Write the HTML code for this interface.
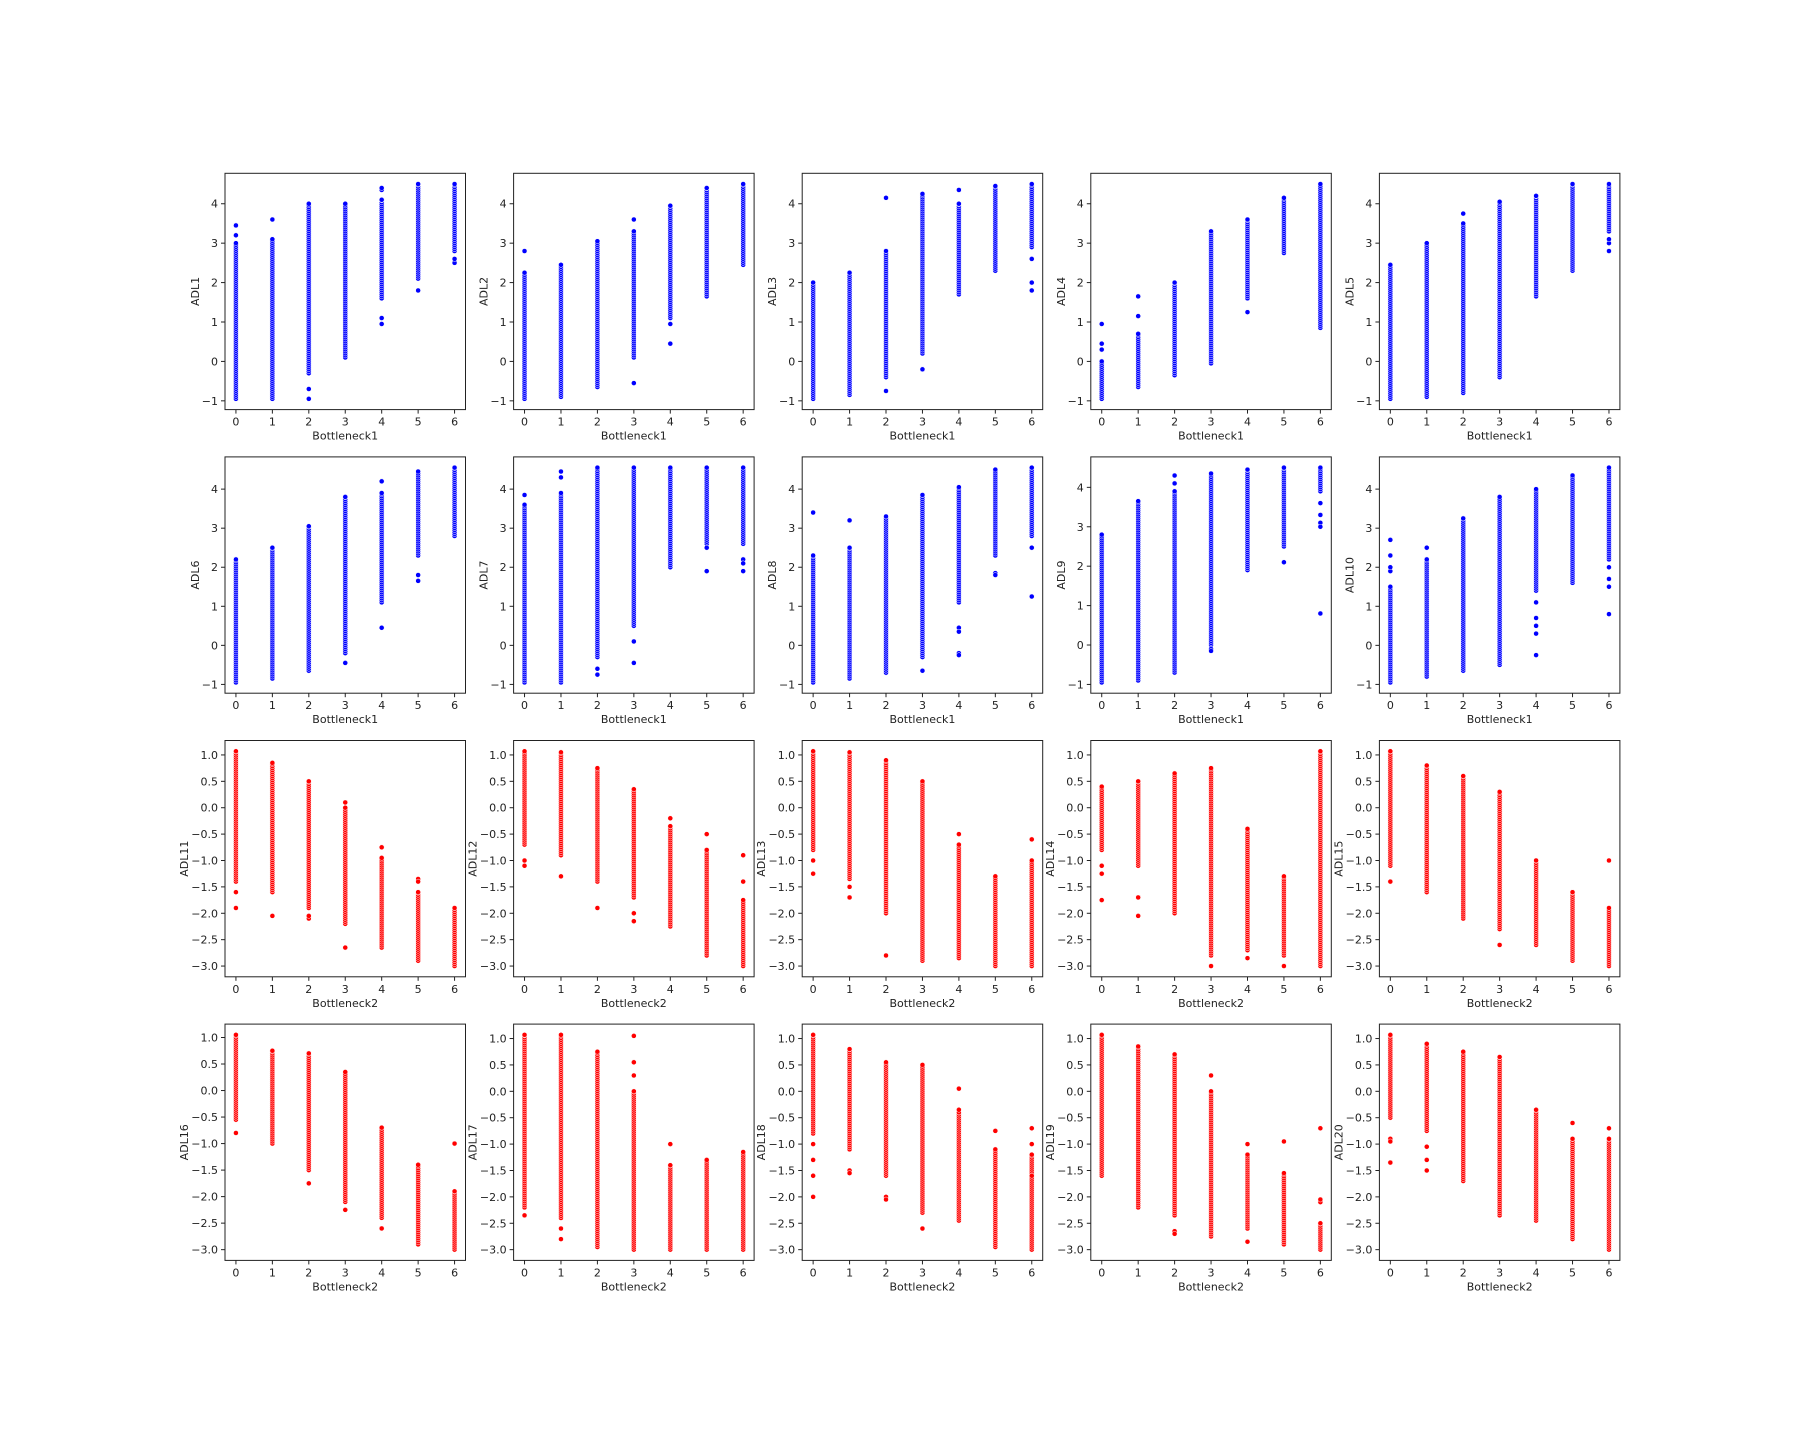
<!DOCTYPE html>
<html><head><meta charset="utf-8"><title>ADL vs Bottleneck scatter grid</title>
<style>
html,body{margin:0;padding:0;background:#fff;}
svg text{font-family:"DejaVu Sans","Liberation Sans",sans-serif;font-size:11px;fill:#222;}
</style></head>
<body>
<svg id="fig" width="1800" height="1440" viewBox="0 0 1800 1440" xmlns="http://www.w3.org/2000/svg">
<rect width="1800" height="1440" fill="#fff"/>
</svg>
<script>
// x categories
const categories = [0,1,2,3,4,5,6];
// per-panel names and x labels
const panelNames = ["ADL1","ADL2","ADL3","ADL4","ADL5","ADL6","ADL7","ADL8","ADL9","ADL10","ADL11","ADL12","ADL13","ADL14","ADL15","ADL16","ADL17","ADL18","ADL19","ADL20"];
const xLabels = ["Bottleneck1","Bottleneck1","Bottleneck1","Bottleneck1","Bottleneck1","Bottleneck1","Bottleneck1","Bottleneck1","Bottleneck1","Bottleneck1","Bottleneck2","Bottleneck2","Bottleneck2","Bottleneck2","Bottleneck2","Bottleneck2","Bottleneck2","Bottleneck2","Bottleneck2","Bottleneck2"];
const topTicks = [-1,0,1,2,3,4];
const bottomTicks = [-3,-2.5,-2,-1.5,-1,-0.5,0,0.5,1];
// dense ranges [lo,hi] per category, per panel
const denseRanges = [
 [[-0.95,3.0],[-0.95,3.1],[-0.3,4.0],[0.1,4.0],[1.6,4.1],[2.1,4.5],[2.8,4.5]],
 [[-0.95,2.25],[-0.9,2.45],[-0.65,3.05],[0.1,3.3],[1.1,3.95],[1.65,4.4],[2.45,4.5]],
 [[-0.95,2.0],[-0.85,2.25],[-0.4,2.8],[0.2,4.25],[1.7,4.0],[2.3,4.45],[2.9,4.5]],
 [[-0.95,0.0],[-0.65,0.7],[-0.35,2.0],[-0.05,3.3],[1.6,3.6],[2.75,4.15],[0.85,4.5]],
 [[-0.95,2.45],[-0.9,3.0],[-0.8,3.5],[-0.4,4.05],[1.65,4.2],[2.3,4.5],[3.3,4.5]],
 [[-0.95,2.2],[-0.85,2.5],[-0.65,3.05],[-0.2,3.8],[1.1,3.9],[2.3,4.45],[2.8,4.55]],
 [[-0.95,3.6],[-0.95,3.9],[-0.3,4.55],[0.5,4.55],[2.0,4.55],[2.6,4.55],[2.6,4.55]],
 [[-0.95,2.3],[-0.85,2.5],[-0.7,3.3],[-0.3,3.85],[1.1,4.05],[2.3,4.5],[2.8,4.55]],
 [[-0.95,2.8],[-0.9,3.65],[-0.7,3.9],[0.0,4.35],[1.9,4.45],[2.5,4.5],[3.9,4.5]],
 [[-0.95,1.5],[-0.8,2.2],[-0.65,3.25],[-0.5,3.8],[1.4,4.0],[1.6,4.35],[2.2,4.55]],
 [[-1.4,1.07],[-1.6,0.85],[-1.9,0.5],[-2.2,0.0],[-2.65,-0.95],[-2.9,-1.6],[-3.0,-1.9]],
 [[-0.7,1.07],[-0.9,1.05],[-1.4,0.75],[-1.7,0.35],[-2.25,-0.35],[-2.8,-0.8],[-3.0,-1.75]],
 [[-0.8,1.07],[-1.35,1.05],[-2.0,0.9],[-2.9,0.5],[-2.85,-0.7],[-3.0,-1.3],[-3.0,-1.0]],
 [[-0.8,0.4],[-1.1,0.5],[-2.0,0.65],[-2.8,0.75],[-2.7,-0.4],[-2.8,-1.3],[-3.0,1.07]],
 [[-1.1,1.07],[-1.6,0.8],[-2.1,0.6],[-2.3,0.3],[-2.6,-1.0],[-2.9,-1.6],[-3.0,-1.9]],
 [[-0.55,1.05],[-1.0,0.75],[-1.5,0.7],[-2.1,0.35],[-2.4,-0.7],[-2.9,-1.4],[-3.0,-1.9]],
 [[-2.2,1.07],[-2.4,1.07],[-2.95,0.75],[-3.0,0.0],[-3.0,-1.4],[-3.0,-1.3],[-3.0,-1.15]],
 [[-0.8,1.07],[-1.1,0.8],[-1.6,0.55],[-2.3,0.5],[-2.45,-0.4],[-2.95,-1.1],[-3.0,-1.2]],
 [[-1.6,1.07],[-2.2,0.85],[-2.35,0.7],[-2.75,0.0],[-2.6,-1.2],[-2.9,-1.55],[-3.0,-2.5]],
 [[-0.5,1.07],[-0.75,0.9],[-1.7,0.75],[-2.35,0.65],[-2.45,-0.35],[-2.8,-0.9],[-3.0,-0.9]]
];
// isolated points per category, per panel
const outliers = [
 [[3.2,3.45],[3.6],[-0.7,-0.95],[],[4.35,4.4,1.1,0.95],[1.8],[2.5,2.6]],
 [[2.8],[],[],[3.6,-0.55],[0.45,0.95],[],[]],
 [[],[],[4.15,-0.75],[-0.2],[4.35],[],[2.6,2.0,1.8]],
 [[0.3,0.45,0.95],[1.15,1.65],[],[],[1.25],[],[]],
 [[],[],[3.75],[],[],[],[3.0,2.8,3.1]],
 [[],[],[],[-0.45],[4.2,0.45],[1.8,1.65],[]],
 [[3.85],[4.3,4.45],[-0.6,-0.75],[0.1,-0.45],[],[1.9,2.5],[1.9,2.2,2.1]],
 [[3.4],[3.2],[],[-0.65],[0.45,0.35,-0.2,-0.25],[1.85,1.8],[2.5,1.25]],
 [[],[],[4.1,4.3],[-0.1,-0.15],[],[2.1],[3.6,3.3,3.1,3.0,0.8]],
 [[1.9,2.0,2.3,2.7],[2.5],[],[],[1.1,0.7,0.5,0.3,-0.25],[],[2.0,1.7,1.5,0.8]],
 [[-1.6,-1.9],[-2.05],[-2.1,-2.05],[0.1,-2.65],[-0.75],[-1.35,-1.4],[]],
 [[-1.0,-1.1],[-1.3],[-1.9],[-2.0,-2.15],[-0.2],[-0.5],[-0.9,-1.4]],
 [[-1.0,-1.25],[-1.5,-1.7],[-2.8],[],[-0.5],[],[-0.6]],
 [[-1.1,-1.25,-1.75],[-1.7,-2.05],[],[-3.0],[-2.85],[-3.0],[]],
 [[-1.4],[],[],[-2.6],[],[],[-1.0]],
 [[-0.8],[],[-1.75],[-2.25],[-2.6],[],[-1.0]],
 [[-2.35],[-2.6,-2.8],[],[0.3,0.55,1.05],[-1.0],[],[]],
 [[-1.0,-1.3,-1.6,-2.0],[-1.5,-1.55],[-2.0,-2.05],[-2.6],[0.05,-0.35],[-0.75],[-0.7,-1.0,-1.6]],
 [[],[],[-2.65,-2.7],[0.3],[-1.0,-2.85],[-0.95],[-2.1,-2.05,-0.7]],
 [[-0.9,-0.95,-1.35],[-1.05,-1.3,-1.5],[],[],[],[-0.6],[-0.7]]
];

const NS = "http://www.w3.org/2000/svg";
const svg = document.getElementById('fig');
function mk(tag, attrs, parent){
  const e = document.createElementNS(NS, tag);
  for (const k in attrs) e.setAttribute(k, attrs[k]);
  (parent||svg).appendChild(e);
  return e;
}
const L = 225, T = 173.3, W = 240.5, H = 236.3, GX = 48.1, GY = 47.3;
function fmt(v, half){
  let s = half ? v.toFixed(1) : String(v);
  return s.replace('-', '\u2212');
}
for (let p = 0; p < 20; p++){
  const row = Math.floor(p/5), col = p%5;
  const x0 = L + col*(W+GX), y0 = T + row*(H+GY);
  const red = p >= 10;
  const color = red ? '#ff0000' : '#0000ff';
  let lo = Infinity, hi = -Infinity;
  denseRanges[p].forEach(r => { lo = Math.min(lo, r[0]); hi = Math.max(hi, r[1]); });
  outliers[p].forEach(a => a.forEach(v => { lo = Math.min(lo, v); hi = Math.max(hi, v); }));
  const m = (hi-lo)*0.05, ymin = lo-m, ymax = hi+m;
  const xmin = -0.3, xmax = 6.3;
  const sx = v => x0 + (v - xmin)/(xmax - xmin)*W;
  const sy = v => y0 + H - (v - ymin)/(ymax - ymin)*H;

  const g = mk('g', {});
  
  

  const pts = mk('g', {}, g);
  
  
  const step = (ymax - ymin) / H * 2.0;
  categories.forEach((c, i) => {
    const r = denseRanges[p][i];
    const vals = [];
    for (let v = r[0]; v <= r[1] + 1e-9; v += step) vals.push(v);
    vals.push(r[1]);
    outliers[p][i].forEach(v => vals.push(v));
    vals.forEach(v => {
      const d = mk('circle', {cx: sx(c), cy: sy(v), r: 2.5, fill: color, stroke: '#fff', 'stroke-width': 0.5}, pts);
      
      
    });
  });

  const frame = mk('rect', {x: x0, y: y0, width: W, height: H, fill: 'none', stroke: '#222', 'stroke-width': 1}, g);
  
  

  categories.forEach(c => {
    const X = sx(c);
    mk('line', {x1: X, x2: X, y1: y0+H, y2: y0+H+4, stroke: '#222', 'stroke-width': 1}, g);
    const t = mk('text', {x: X, y: y0+H+16, 'text-anchor': 'middle'}, g);
    t.textContent = String(c);
    
    
  });
  const ticks = red ? bottomTicks : topTicks;
  ticks.forEach(v => {
    const Y = sy(v);
    mk('line', {x1: x0-4, x2: x0, y1: Y, y2: Y, stroke: '#222', 'stroke-width': 1}, g);
    const t = mk('text', {x: x0-7, y: Y+4, 'text-anchor': 'end'}, g);
    t.textContent = fmt(v, red);
    
    
  });
  const xl = mk('text', {x: x0+W/2, y: y0+H+30, 'text-anchor': 'middle'}, g);
  xl.textContent = xLabels[p];
  
  
  const yx = red ? x0-37 : x0-26;
  const yl = mk('text', {x: yx, y: y0+H/2, 'text-anchor': 'middle', transform: 'rotate(-90 ' + yx + ' ' + (y0+H/2) + ')'}, g);
  yl.textContent = panelNames[p];
  
  
}
</script>
</body></html>
